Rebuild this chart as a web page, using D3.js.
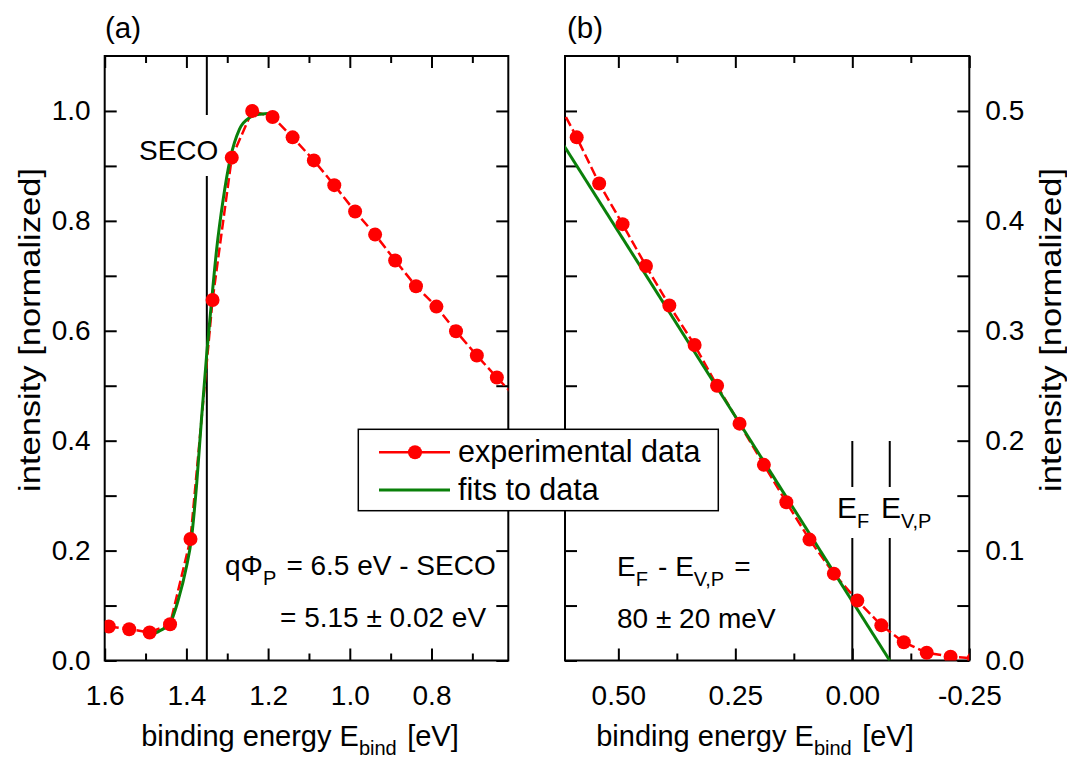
<!DOCTYPE html>
<html>
<head>
<meta charset="utf-8">
<script src="https://cdn.jsdelivr.net/npm/d3@7"></script>
<style>
  html, body { margin: 0; padding: 0; background: #fff; }
  svg { display: block; font-family: "Liberation Sans", Arial, sans-serif; }
</style>
</head>
<body>
<svg id="chart" width="1067" height="759"></svg>
<script>
// ---------------- data ----------------
// Panel (a): secondary electron cut-off region
const expA_E = [1.59, 1.54, 1.49, 1.44, 1.39, 1.336, 1.289, 1.239, 1.189, 1.14, 1.088, 1.038, 0.987, 0.938, 0.889, 0.838, 0.788, 0.74, 0.689, 0.64, 0.59];
const expA_I = [0.062, 0.057, 0.051, 0.066, 0.221, 0.656, 0.915, 1.0, 0.989, 0.952, 0.910, 0.865, 0.817, 0.775, 0.728, 0.681, 0.644, 0.599, 0.555, 0.515, 0.476];
const fitA_E = [1.49, 1.465, 1.44, 1.42, 1.40, 1.388, 1.375, 1.363, 1.35, 1.338, 1.326, 1.31, 1.293, 1.27, 1.245, 1.22, 1.19];
const fitA_I = [0.045, 0.054, 0.068, 0.11, 0.17, 0.22, 0.32, 0.44, 0.56, 0.657, 0.748, 0.839, 0.912, 0.967, 0.988, 0.994, 0.996];
const secoE = 1.35;

// Panel (b): valence band onset region
const expB_E = [0.64, 0.589, 0.541, 0.491, 0.441, 0.391, 0.337, 0.289, 0.241, 0.189, 0.141, 0.0915, 0.0394, -0.0107, -0.062, -0.11, -0.159, -0.21, -0.26];
const expB_I = [0.517, 0.476, 0.434, 0.397, 0.359, 0.323, 0.287, 0.250, 0.2155, 0.178, 0.144, 0.110, 0.079, 0.0545, 0.032, 0.0166, 0.0071, 0.0035, 0.002];
const fitB_E = [0.62, -0.08];
const fitB_I = [0.471, 0.0];
const efE = 0.0;
const evpE = -0.08;

// axes
const xDomainA = [1.6, 0.612];
const yDomainA = [0, 1.1];
const xTicksMajorA = [1.6, 1.4, 1.2, 1.0, 0.8];
const xTicksMinorA = [1.5, 1.3, 1.1, 0.9, 0.7];
const yTicksA = [0, 0.1, 0.2, 0.3, 0.4, 0.5, 0.6, 0.7, 0.8, 0.9, 1.0];
const yLabelsA = [0, 0.2, 0.4, 0.6, 0.8, 1.0];

const xDomainB = [0.614, -0.25];
const yDomainB = [0, 0.55];
const xTicksMajorB = [0.5, 0.25, 0.0, -0.25];
const xTicksMinorB = [0.375, 0.125, -0.125];
const yTicksB = [0, 0.05, 0.1, 0.15, 0.2, 0.25, 0.3, 0.35, 0.4, 0.45, 0.5];
const yLabelsB = [0, 0.1, 0.2, 0.3, 0.4, 0.5];

const legendLabels = ["experimental data", "fits to data"];

// ---------------- layout ----------------
const RED = "#ff0000", GREEN = "#0a800a";
const svg = d3.select("#chart");
const yTop = 56, yBot = 660.5;
const boxA = {l: 104.7, r: 508.3};
const boxB = {l: 565, r: 969.3};
const TICK_FS = 28, TXT_FS = 28;

const xA = d3.scaleLinear().domain(xDomainA).range([boxA.l, boxA.r]);
const yA = d3.scaleLinear().domain(yDomainA).range([yBot, yTop]);
const xB = d3.scaleLinear().domain(xDomainB).range([boxB.l, boxB.r]);
const yB = d3.scaleLinear().domain(yDomainB).range([yBot, yTop]);

const defs = svg.append("defs");
defs.append("clipPath").attr("id", "clipA").append("rect")
  .attr("x", boxA.l).attr("y", yTop).attr("width", boxA.r - boxA.l).attr("height", yBot - yTop);
defs.append("clipPath").attr("id", "clipB").append("rect")
  .attr("x", boxB.l).attr("y", yTop).attr("width", boxB.r - boxB.l).attr("height", yBot - yTop);

function drawFrame(x, y, box, xMaj, xMin, xFmt, yT, yLab, yFmt, labelSide) {
  const g = svg.append("g");
  const MAJ = 12, MIN = 7;
  g.append("g").attr("transform", `translate(0,${yBot})`)
    .call(d3.axisBottom(x).tickValues(xMaj).tickSize(-MAJ).tickPadding(25).tickFormat(xFmt));
  g.append("g").attr("transform", `translate(0,${yBot})`)
    .call(d3.axisBottom(x).tickValues(xMin).tickSize(-MIN).tickFormat(""));
  g.append("g").attr("transform", `translate(0,${yTop})`)
    .call(d3.axisTop(x).tickValues(xMaj).tickSize(-MAJ).tickFormat(""));
  g.append("g").attr("transform", `translate(0,${yTop})`)
    .call(d3.axisTop(x).tickValues(xMin).tickSize(-MIN).tickFormat(""));
  const isLab = d => yLab.some(v => Math.abs(v - d) < 1e-9);
  g.append("g").attr("transform", `translate(${box.l},0)`)
    .call(d3.axisLeft(y).tickValues(yT).tickSize(-MAJ).tickPadding(14)
      .tickFormat(d => (labelSide === "left" && isLab(d)) ? yFmt(d) : ""));
  g.append("g").attr("transform", `translate(${box.r},0)`)
    .call(d3.axisRight(y).tickValues(yT).tickSize(-MAJ).tickPadding(16)
      .tickFormat(d => (labelSide === "right" && isLab(d)) ? yFmt(d) : ""));
  g.selectAll(".domain").remove();
  g.selectAll(".tick line").attr("stroke", "#000").attr("stroke-width", 2);
  g.selectAll(".tick text").attr("fill", "#000").style("font-size", TICK_FS + "px")
    .style("font-family", '"Liberation Sans", Arial, sans-serif');
  g.append("rect").attr("x", box.l).attr("y", yTop).attr("width", box.r - box.l).attr("height", yBot - yTop)
    .attr("fill", "none").attr("stroke", "#000").attr("stroke-width", 2);
  return g;
}

function drawData(x, y, clip, eE, eI, fE, fI, fitCurve) {
  const g = svg.append("g").attr("clip-path", `url(#${clip})`);
  const exp = eE.map((e, i) => [e, eI[i]]);
  const fit = fE.map((e, i) => [e, fI[i]]);
  g.append("path").datum(exp)
    .attr("d", d3.line().x(d => x(d[0])).y(d => y(d[1])))
    .attr("fill", "none").attr("stroke", RED).attr("stroke-width", 2.5).attr("stroke-dasharray", "10,4");
  g.append("path").datum(fit)
    .attr("d", d3.line().curve(fitCurve).x(d => x(d[0])).y(d => y(d[1])))
    .attr("fill", "none").attr("stroke", GREEN).attr("stroke-width", 3);
  g.selectAll("circle").data(exp).enter().append("circle")
    .attr("cx", d => x(d[0])).attr("cy", d => y(d[1])).attr("r", 7).attr("fill", RED);
  return g;
}

drawFrame(xA, yA, boxA, xTicksMajorA, xTicksMinorA, d3.format(".1f"), yTicksA, yLabelsA, d3.format(".1f"), "left");
drawFrame(xB, yB, boxB, xTicksMajorB, xTicksMinorB, d => d3.format(".2f")(d).replace("\u2212", "-"), yTicksB, yLabelsB, d3.format(".1f"), "right");

function vline(x, y1, y2) {
  svg.append("line").attr("x1", x).attr("x2", x).attr("y1", y1).attr("y2", y2)
    .attr("stroke", "#000").attr("stroke-width", 2);
}
vline(xA(secoE), yTop, 115);
vline(xA(secoE), 176, yBot);
vline(xB(efE), 441, 487);
vline(xB(efE), 538, yBot);
vline(xB(evpE), 441, 487);
vline(xB(evpE), 538, yBot);

drawData(xA, yA, "clipA", expA_E, expA_I, fitA_E, fitA_I, d3.curveMonotoneX);
drawData(xB, yB, "clipB", expB_E, expB_I, fitB_E, fitB_I, d3.curveLinear);

// ---------------- text ----------------
function txt(x, y, parts, opts = {}) {
  const t = svg.append("text")
    .attr("font-size", (opts.fs || TXT_FS) + "px").attr("fill", "#000")
    .attr("text-anchor", opts.anchor || "start");
  if (opts.rotate) t.attr("x", 0).attr("y", 0)
    .attr("transform", `translate(${x},${y}) rotate(${opts.rotate}) scale(${opts.stretch || 1},1)`);
  else t.attr("x", x).attr("y", y);
  parts.forEach(p => {
    if (typeof p === "string") t.append("tspan").text(p);
    else {
      t.append("tspan").attr("dy", p.dy).attr("font-size", p.fs + "px").text(p.t);
      if (p.back !== undefined) t.append("tspan").attr("dy", p.back).text("\u200A");
    }
  });
  return t;
}

txt(105, 38, ["(a)"], {fs: 29.5});
txt(567, 38, ["(b)"], {fs: 29.5});
txt(139, 160, ["SECO"]);

txt(225, 575, ["q\u03A6", {t: "P", dy: 10, fs: 20, back: -10}, " = 6.5 eV - SECO"]);
txt(280, 627, ["= 5.15 \u00B1 0.02 eV"]);

txt(617, 576, ["E", {t: "F", dy: 10, fs: 20, back: -10}, " - E", {t: "V,P", dy: 10, fs: 20, back: -10}, " ="]);
txt(617, 628, ["80 \u00B1 20 meV"]);

txt(837, 518, ["E", {t: "F", dy: 10, fs: 20}], {fs: 30});
txt(881, 518, ["E", {t: "V,P", dy: 10, fs: 20}], {fs: 30});

txt(300, 746, ["binding energy E", {t: "bind", dy: 9, fs: 20, back: -9}, " [eV]"], {anchor: "middle", fs: 29});
txt(755, 746, ["binding energy E", {t: "bind", dy: 9, fs: 20, back: -9}, " [eV]"], {anchor: "middle", fs: 29});
txt(40, 330, ["intensity [normalized]"], {anchor: "middle", rotate: -90, stretch: 1.15, fs: 30});
txt(1061, 330, ["intensity [normalized]"], {anchor: "middle", rotate: -90, stretch: 1.15, fs: 30});

// ---------------- legend ----------------
const lg = svg.append("g");
lg.append("rect").attr("x", 358.3).attr("y", 429.3).attr("width", 360).attr("height", 81.4)
  .attr("fill", "#fff").attr("stroke", "#000").attr("stroke-width", 1.5);
lg.append("line").attr("x1", 379).attr("x2", 450).attr("y1", 452.3).attr("y2", 452.3)
  .attr("stroke", RED).attr("stroke-width", 2.5);
lg.append("circle").attr("cx", 415).attr("cy", 452.3).attr("r", 7).attr("fill", RED);
lg.append("line").attr("x1", 379).attr("x2", 450).attr("y1", 490).attr("y2", 490)
  .attr("stroke", GREEN).attr("stroke-width", 3);
txt(458, 462, [legendLabels[0]], {fs: 30.5});
txt(458, 500, [legendLabels[1]], {fs: 30.5});
</script>
</body>
</html>
